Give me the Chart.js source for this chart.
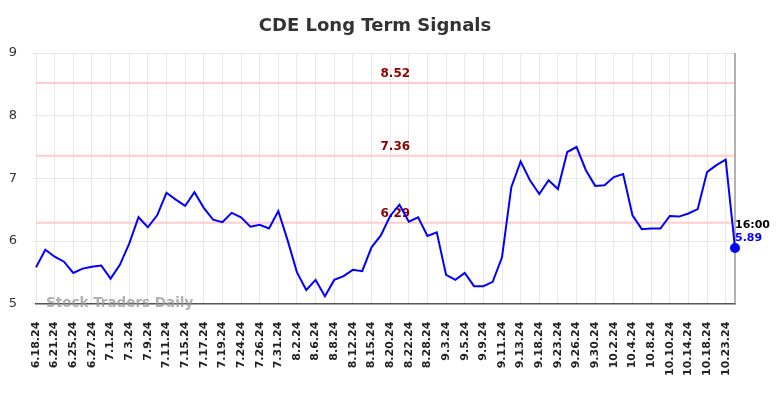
<!DOCTYPE html>
<html lang="en">
<head>
<meta charset="utf-8" />
<title>CDE Long Term Signals</title>
<script src="https://cdn.jsdelivr.net/npm/chart.js@4.4.1/dist/chart.umd.min.js"></script>
<style>
	html, body { margin: 0; padding: 0; background: #fff; }
	#wrap { width: 784px; height: 398px; }
</style>
</head>
<body>
<div id="wrap"><canvas id="chart"></canvas></div>
<script>
	const chartTitle = "CDE Long Term Signals";
	const dateLabels = [
		"6.18.24", "6.21.24", "6.25.24", "6.27.24", "7.1.24", "7.3.24", "7.9.24", "7.11.24",
		"7.15.24", "7.17.24", "7.19.24", "7.24.24", "7.26.24", "7.31.24", "8.2.24", "8.6.24",
		"8.8.24", "8.12.24", "8.15.24", "8.20.24", "8.22.24", "8.28.24", "9.3.24", "9.5.24",
		"9.9.24", "9.11.24", "9.13.24", "9.18.24", "9.23.24", "9.26.24", "9.30.24", "10.2.24",
		"10.4.24", "10.8.24", "10.10.24", "10.14.24", "10.18.24", "10.23.24"
	];
	// one close per point, a date label sits on every second point
	const closes = [
		5.58, 5.86, 5.75, 5.67, 5.49, 5.56, 5.59, 5.61, 5.40, 5.62,
		5.96, 6.38, 6.22, 6.41, 6.77, 6.66, 6.56, 6.78, 6.53, 6.34,
		6.30, 6.45, 6.38, 6.23, 6.26, 6.20, 6.48, 6.01, 5.50, 5.22,
		5.38, 5.12, 5.38, 5.44, 5.54, 5.52, 5.90, 6.09, 6.40, 6.58,
		6.31, 6.38, 6.08, 6.14, 5.46, 5.38, 5.49, 5.28, 5.28, 5.35,
		5.74, 6.86, 7.27, 6.97, 6.75, 6.97, 6.83, 7.42, 7.50, 7.13,
		6.88, 6.89, 7.02, 7.07, 6.41, 6.19, 6.20, 6.20, 6.40, 6.39,
		6.44, 6.51, 7.10, 7.21, 7.30, 5.89
	];
	const signalLevels = [8.52, 7.36, 6.29];
	const yTicks = [5, 6, 7, 8, 9];
	const lastTime = "16:00";

	const labels = closes.map((v, i) => (i % 2 === 0 ? dateLabels[i / 2] : ""));
	const lastIndex = closes.length - 1;

	const overlay = {
		id: "overlay",
		beforeDatasetsDraw(chart) {
			const { ctx, chartArea, scales } = chart;
			const y = scales.y;
			ctx.save();
			// signal levels
			for (const level of signalLevels) {
				const py = y.getPixelForValue(level);
				ctx.strokeStyle = "#ffcccc";
				ctx.lineWidth = 2;
				ctx.beginPath();
				ctx.moveTo(chartArea.left, py);
				ctx.lineTo(chartArea.right, py);
				ctx.stroke();
				ctx.fillStyle = "#8b0000";
				ctx.font = "bold 12px 'DejaVu Sans'";
				ctx.textAlign = "center";
				ctx.textBaseline = "bottom";
				ctx.fillText(level.toFixed(2), chartArea.left + chartArea.width * 0.514, py - 3);
			}
			// marker at last point
			const px = scales.x.getPixelForValue(lastIndex);
			ctx.strokeStyle = "#999";
			ctx.lineWidth = 1.5;
			ctx.beginPath();
			ctx.moveTo(px, chartArea.top);
			ctx.lineTo(px, chartArea.bottom);
			ctx.stroke();
			ctx.restore();
		},
		afterDraw(chart) {
			const { ctx, chartArea, scales } = chart;
			ctx.save();
			ctx.fillStyle = "#333";
			ctx.font = "bold 18px 'DejaVu Sans'";
			ctx.textAlign = "center";
			ctx.textBaseline = "middle";
			ctx.fillText(chartTitle, 375, 26);

			ctx.fillStyle = "rgba(150,150,150,0.75)";
			ctx.font = "bold 13.5px 'DejaVu Sans'";
			ctx.textAlign = "left";
			ctx.fillText("Stock Traders Daily", chartArea.left + 10, chartArea.bottom);

			const px = scales.x.getPixelForValue(lastIndex);
			const py = scales.y.getPixelForValue(closes[lastIndex]);
			ctx.font = "bold 11px 'DejaVu Sans'";
			ctx.textBaseline = "middle";
			ctx.fillStyle = "#000";
			ctx.fillText(lastTime, px, py - 23);
			ctx.fillStyle = "#0000ff";
			ctx.fillText(closes[lastIndex].toFixed(2), px, py - 10);
			ctx.restore();
		}
	};

	new Chart(document.getElementById("chart"), {
		type: "line",
		data: {
			labels: labels,
			datasets: [{
				data: closes,
				borderColor: "#0000ff",
				backgroundColor: "#0000ff",
				borderWidth: 2,
				tension: 0,
				pointRadius: (c) => (c.dataIndex === lastIndex ? 4 : 0),
				pointHoverRadius: 0
			}]
		},
		options: {
			responsive: true,
			maintainAspectRatio: false,
			animation: false,
			layout: { padding: { top: 53, right: 49, bottom: 4, left: 0 } },
			plugins: { legend: { display: false }, tooltip: { enabled: false } },
			scales: {
				x: {
					grid: {
						color: (c) => (c.index % 2 === 0 && c.index !== lastIndex ? "#e8e8e8" : "rgba(0,0,0,0)"),
						drawTicks: false
					},
					border: { color: "#555", width: 1.5 },
					ticks: {
						autoSkip: false,
						maxRotation: 90,
						minRotation: 90,
						padding: 18,
						color: "#222",
						font: { family: "'DejaVu Sans'", size: 11, weight: "bold" }
					}
				},
				y: {
					min: yTicks[0],
					max: yTicks[yTicks.length - 1],
					afterBuildTicks: (scale) => { scale.ticks = yTicks.map((v) => ({ value: v })); },
					afterFit: (scale) => { scale.width = 36; },
					grid: { color: "#e8e8e8", tickLength: 4 },
					border: { display: false },
					ticks: {
						padding: 15,
						color: "#333",
						font: { family: "'DejaVu Sans'", size: 13 }
					}
				}
			}
		},
		plugins: [overlay]
	});
</script>
</body>
</html>
